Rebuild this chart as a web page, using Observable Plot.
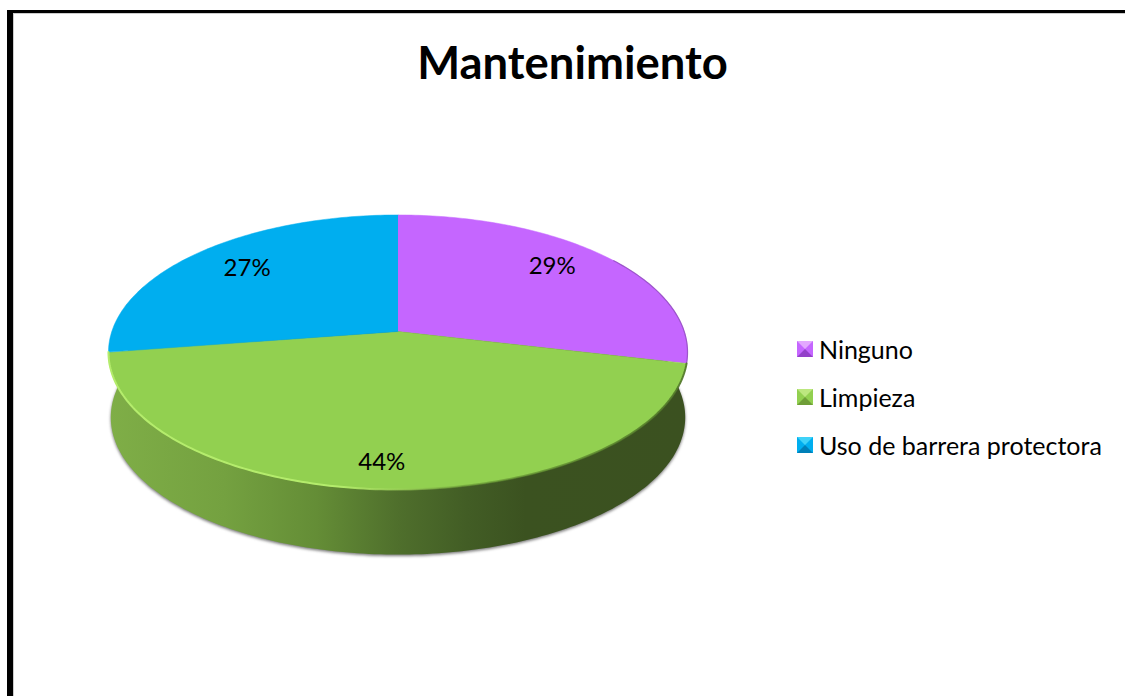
<!DOCTYPE html>
<html lang="es">
<head>
<meta charset="utf-8">
<title>Mantenimiento</title>
<script src="https://cdn.jsdelivr.net/npm/d3@7"></script>
<script src="https://cdn.jsdelivr.net/npm/@observablehq/plot@0.6"></script>
<style>
  html, body { margin: 0; padding: 0; background: #fff; width: 1125px; height: 696px; overflow: hidden; }
  body { position: relative; font-family: Lato, "Open Sans", sans-serif; color: #000; }
  #frame { position: absolute; left: 7px; top: 10px; right: 0; bottom: 0; border-left: 6px solid #000; border-top: 3px solid #000; box-shadow: inset 1px 1px 0 #ccc; }
  #chart { position: absolute; left: 0; top: 0; }
  #chart svg { background: transparent; display: block; }
  #title { position: absolute; left: 0; width: 1145px; top: 37px; text-align: center; font-size: 45.4px; line-height: 50px; font-weight: 700; }
  .legend-row { position: absolute; left: 797px; height: 24px; display: flex; align-items: center; font-size: 25px; line-height: 24px; white-space: nowrap; }
  .swatch { width: 0; height: 0; border-style: solid; border-width: 8px; margin-right: 6px; }
  .soft-shadow { filter: blur(1.6px); }
  .soft-rim { filter: blur(0.7px); }
</style>
</head>
<body>
<div id="frame"></div>
<div id="chart"></div>
<div id="title">Mantenimiento</div>
<div id="legend"></div>
<script>
const chartTitle = "Mantenimiento";
const categories = ["Ninguno", "Limpieza", "Uso de barrera protectora"];
const shares = [28.7, 43.9, 27.4];
const colors = ["#c566ff", "#92d050", "#00aeef"];
const swatchLight = ["#e3a8ff", "#bce77f", "#3fd2f8"];
const swatchDark = ["#9340c9", "#6f9e38", "#0080b8"];
const labelRadius = [0.78, 0.85, 0.76];
const labelTurn = [-3.5, 1, 1];

// Perspective view of the unit disc: b tilts the disc, depth lowers the base.
const b = -0.1512;
const depth = 0.485;
const baseScale = 0.992;
const project = (deg, r = 1) => {
  const a = deg * Math.PI / 180;
  const u = r * Math.sin(a), v = -r * Math.cos(a), den = 1 + b * v;
  return {X: u / den, Y: v / den};
};
const arc = (from, to) => {
  const n = Math.max(2, Math.ceil(Math.abs(to - from)));
  return d3.range(n + 1).map(i => from + (to - from) * i / n);
};

let acc = 0;
const slices = categories.map((key, i) => {
  const start = acc * 3.6; acc += shares[i]; const end = acc * 3.6;
  return {key, i, share: shares[i], start, end, mid: (start + end) / 2};
});
const slicePoints = slices.flatMap(s => [
  {key: s.key, X: 0, Y: 0},
  ...arc(s.start, s.end).map(d => ({key: s.key, ...project(d)}))
]);
const basePoint = d => {
  const p = project(d);
  return {X: p.X * baseScale, Y: p.Y + depth};
};
const sidePoints = [project(78), ...arc(78, 282).map(basePoint), project(282)];
const sliceLabels = slices.map(s => ({
  text: Math.round(s.share) + "%",
  ...project(s.mid + labelTurn[s.i], labelRadius[s.i])
}));
const greenRim = arc(slices[1].start, slices[1].end).map(d => project(d));
const purpleRim = arc(55, slices[0].end).map(d => project(d));

const defs = () => {
  const svg = d3.create("svg:defs");
  const grad = (id, stops) => {
    const g = svg.append("linearGradient").attr("id", id)
      .attr("gradientUnits", "userSpaceOnUse")
      .attr("x1", 108).attr("x2", 687).attr("y1", 0).attr("y2", 0);
    stops.forEach(([o, c, a]) => g.append("stop").attr("offset", o).attr("stop-color", c).attr("stop-opacity", a ?? 1));
  };
  grad("side", [[0, "#7fae47"], [0.2, "#74a140"], [0.36, "#648d36"], [0.5, "#4f6f2c"], [0.62, "#425d25"], [0.72, "#3b5220"], [1, "#3b5120"]]);
  grad("rim", [[0, "#b4ec6c"], [0.4, "#b4ec6c"], [0.5, "#a4d85f", 0.6], [0.62, "#5f8a30", 0.5], [1, "#4f7428", 0.9]]);
  return svg.node();
};

const line = {x: "X", y: "Y", curve: "linear"};
const plot = Plot.plot({
  width: 1125,
  height: 696,
  margin: 0,
  x: {domain: [-1, 1], range: [111.3, 683.7], axis: null},
  y: {domain: [-1, 1], range: [196.85, 465.15], axis: null},
  color: {domain: categories, range: colors},
  marks: [
    defs,
    Plot.line(sidePoints, {...line, fill: "#777", stroke: "none", dy: 1.5, dx: 0, className: "soft-shadow"}),
    Plot.line(sidePoints, {...line, fill: "url(#side)", stroke: "none"}),
    Plot.line(slicePoints, {...line, z: "key", fill: "key", stroke: "key", strokeWidth: 0.5}),
    Plot.line(purpleRim, {...line, stroke: "#8e48bd", strokeWidth: 1.2, strokeOpacity: 0.8, className: "soft-rim"}),
    Plot.line(greenRim, {...line, stroke: "url(#rim)", strokeWidth: 2, className: "soft-rim"}),
    Plot.text(sliceLabels, {x: "X", y: "Y", text: "text", fontSize: 24, fontFamily: "Lato, 'Open Sans', sans-serif", fill: "#000"})
  ]
});
document.getElementById("chart").append(plot);
document.getElementById("title").textContent = chartTitle;

const rowTops = [337, 385, 433];
const legend = document.getElementById("legend");
categories.forEach((name, i) => {
  const row = document.createElement("div");
  row.className = "legend-row";
  row.style.top = rowTops[i] + "px";
  const sw = document.createElement("span");
  sw.className = "swatch";
  sw.style.borderColor = `${swatchLight[i]} ${colors[i]} ${swatchDark[i]} ${colors[i]}`;
  row.append(sw, name);
  legend.append(row);
});
</script>
</body>
</html>
